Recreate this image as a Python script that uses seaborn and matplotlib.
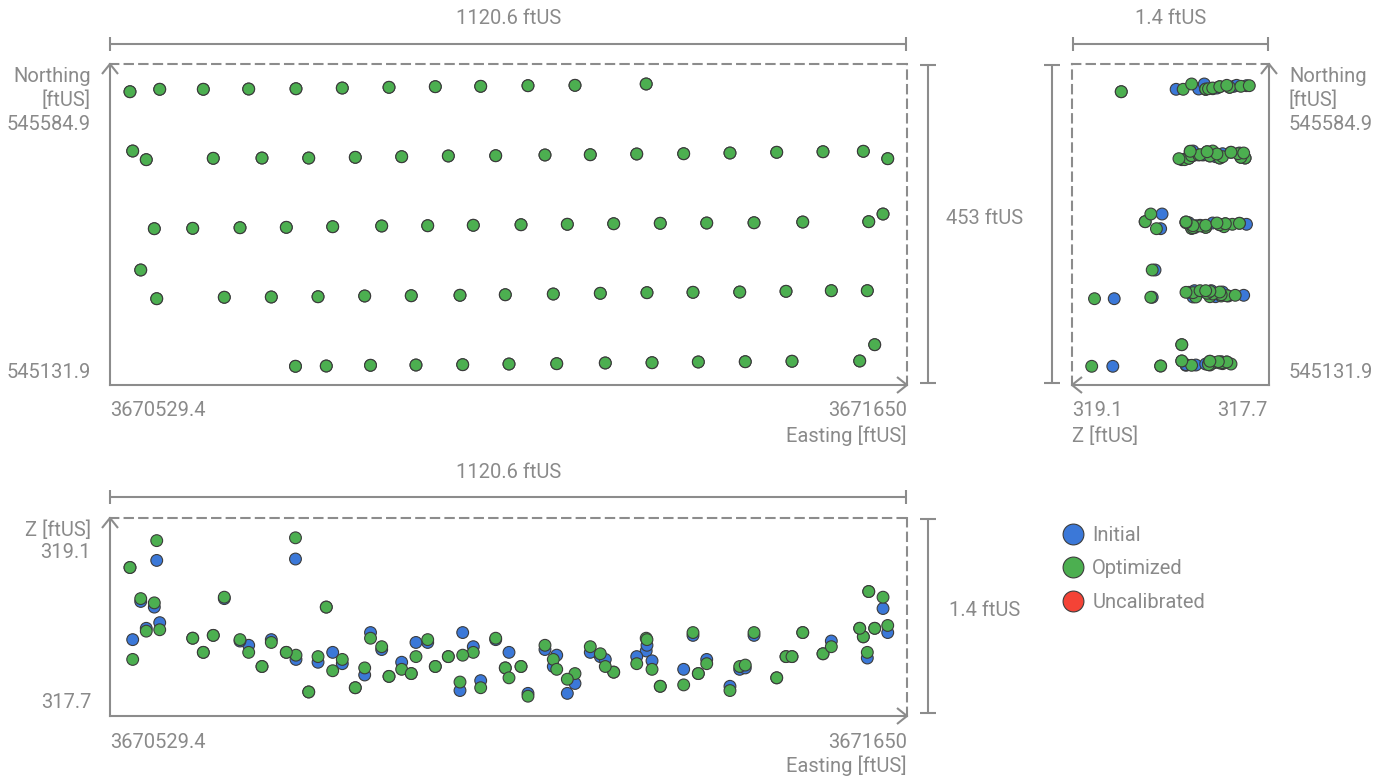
import matplotlib
matplotlib.use("Agg")
import matplotlib.pyplot as plt
from matplotlib.lines import Line2D
import pandas as pd
import seaborn as sns

sns.set_style("white")
plt.rcParams['font.family'] = ['Roboto', 'DejaVu Sans']

# ------------------------------------------------------------------ data
series_names = ["Initial", "Optimized", "Uncalibrated"]
series_colors = ["#3b78d8", "#4caf50", "#f44336"]

easting_limits = [3670529.4, 3671650.0]
northing_limits = [545131.9, 545584.9]
z_limits = [317.7, 319.1]
easting_tick_labels = ["3670529.4", "3671650"]
northing_tick_labels = ["545131.9", "545584.9"]
z_tick_labels = ["317.7", "319.1"]
unit = "ftUS"

# camera positions, flight line by flight line (north to south)
easting = [
    3670557.5, 3670599.3, 3670660.6, 3670724.4, 3670790.9, 3670856.0, 3670921.7, 3670986.8, 3671050.6, 3671117.1, 3671183.2, 3671283.3,
    3670561.3, 3670580.4, 3670674.6, 3670743.1, 3670808.8, 3670874.3, 3670939.5, 3671005.1, 3671071.7, 3671141.0, 3671204.7, 3671270.0, 3671336.0, 3671401.1, 3671466.8, 3671531.9, 3671588.6, 3671622.9,
    3670591.7, 3670645.7, 3670712.2, 3670777.3, 3670842.5, 3670911.4, 3670976.1, 3671040.2, 3671107.3, 3671172.4, 3671237.6, 3671303.1, 3671368.4, 3671434.9, 3671503.4, 3671596.2, 3671616.3,
    3670572.6, 3670595.1, 3670690.1, 3670756.2, 3670821.9, 3670887.5, 3670953.0, 3671021.5, 3671085.2, 3671152.7, 3671218.8, 3671284.4, 3671349.1, 3671414.8, 3671479.9, 3671543.6, 3671594.2,
    3670790.2, 3670833.5, 3670895.7, 3670959.6, 3671025.3, 3671090.4, 3671157.5, 3671225.8, 3671291.5, 3671356.6, 3671422.6, 3671488.3, 3671583.5, 3671604.6,
]
northing = [
    545545.8, 545549.2, 545549.2, 545549.6, 545550.0, 545551.0, 545552.0, 545552.9, 545553.4, 545554.3, 545554.8, 545556.7,
    545462.1, 545449.9, 545451.8, 545452.2, 545452.2, 545453.2, 545454.1, 545455.1, 545455.5, 545456.5, 545456.9, 545457.9, 545458.3, 545459.3, 545460.3, 545461.1, 545461.7, 545451.3,
    545352.5, 545353.0, 545353.9, 545354.4, 545355.3, 545356.3, 545356.7, 545357.3, 545358.1, 545358.7, 545359.5, 545360.1, 545360.5, 545360.9, 545361.9, 545362.4, 545373.2,
    545294.2, 545253.7, 545255.7, 545256.1, 545256.5, 545257.5, 545257.9, 545258.5, 545259.3, 545260.3, 545261.3, 545262.2, 545262.7, 545263.1, 545264.1, 545265.0, 545265.0,
    545158.3, 545158.7, 545159.7, 545160.1, 545160.6, 545161.5, 545162.0, 545163.0, 545163.4, 545164.4, 545164.8, 545165.4, 545165.8, 545188.8,
]
z_initial = [
    318.75, 318.36, 318.15, 318.20, 318.10, 318.07, 317.98, 318.05, 317.95, 317.86, 317.93, 318.16,
    318.24, 318.32, 318.27, 318.05, 317.87, 317.90, 318.08, 318.12, 318.24, 318.17, 318.15, 318.12, 318.03, 317.91, 317.97, 318.14, 318.26, 318.29,
    318.47, 318.25, 318.23, 318.15, 318.15, 318.17, 318.22, 318.19, 318.05, 317.86, 318.01, 317.91, 318.10, 318.27, 318.29, 318.58, 318.46,
    318.51, 318.80, 318.53, 318.24, 318.08, 317.99, 318.00, 317.88, 318.04, 318.05, 318.12, 318.20, 318.27, 318.03, 318.12, 318.23, 318.11,
    318.81, 318.47, 318.29, 318.22, 318.29, 318.15, 318.13, 318.10, 318.09, 318.00, 318.04, 318.12, 318.32, 318.32,
]
z_optimized = [
    318.75, 318.31, 318.15, 318.15, 318.13, 318.10, 317.98, 318.05, 317.90, 317.84, 318.00, 318.25,
    318.10, 318.30, 318.27, 318.05, 317.87, 317.90, 318.03, 318.12, 318.25, 318.20, 318.19, 318.07, 317.92, 317.88, 317.97, 318.14, 318.26, 318.34,
    318.50, 318.25, 318.24, 318.15, 318.02, 318.19, 318.24, 318.15, 318.05, 317.96, 318.01, 317.91, 318.07, 318.29, 318.29, 318.58, 318.54,
    318.53, 318.94, 318.54, 318.22, 318.12, 318.04, 318.00, 317.94, 318.04, 318.10, 318.14, 318.24, 318.29, 318.05, 318.12, 318.19, 318.15,
    318.96, 318.47, 318.25, 318.12, 318.13, 317.97, 318.03, 318.05, 318.03, 318.00, 318.06, 318.12, 318.32, 318.32,
]

# long table: Initial first so Optimized is drawn on top
df = pd.concat([
    pd.DataFrame({"Easting": easting, "Northing": northing, "Z": z_initial, "Series": "Initial"}),
    pd.DataFrame({"Easting": easting, "Northing": northing, "Z": z_optimized, "Series": "Optimized"}),
], ignore_index=True)
palette = dict(zip(series_names, series_colors))

# ------------------------------------------------------------------ style
W, H = 1393, 783
GREY = "#8c8c8c"
TXT = "#8a8a8a"
FS = 14.5
LW = 1.5
EDGE = "#3c3c3c"

fig = plt.figure(figsize=(W / 100, H / 100), dpi=100)


def fx(x):
    return x / W


def fy(y):
    return 1 - y / H


def rect(x0, y0, x1, y1):
    return [x0 / W, 1 - y1 / H, (x1 - x0) / W, (y1 - y0) / H]


def line(xs, ys, ls="-"):
    fig.add_artist(Line2D([fx(v) for v in xs], [fy(v) for v in ys], color=GREY,
                          lw=LW, ls=ls, solid_capstyle="butt"))


def text(x, y, s, ha="left"):
    fig.text(fx(x), fy(y), s, ha=ha, va="center", color=TXT, fontsize=FS)


def chevron(x, y, d):
    a, b = 10, 8
    if d == "up":
        line([x - b, x, x + b], [y + a, y, y + a])
    elif d == "right":
        line([x - a, x, x - a], [y - b, y, y + b])
    elif d == "left":
        line([x + a, x, x + a], [y - b, y, y + b])


def hbracket(x0, x1, y):
    line([x0, x1], [y, y])
    line([x0, x0], [y - 7, y + 7])
    line([x1, x1], [y - 7, y + 7])


def vbracket(x, y0, y1):
    line([x, x], [y0, y1])
    line([x - 8, x + 8], [y0, y0])
    line([x - 8, x + 8], [y1, y1])


def span_label(lims):
    return f"{round(lims[1] - lims[0], 1):g} {unit}"


def style(ax, solid, dashed):
    ax.set_xticks([])
    ax.set_yticks([])
    ax.set_xlabel("")
    ax.set_ylabel("")
    ax.set_facecolor("none")
    for s in solid:
        ax.spines[s].set_visible(True)
        ax.spines[s].set_color(GREY)
        ax.spines[s].set_linewidth(LW)
    for s in dashed:
        ax.spines[s].set_visible(True)
        ax.spines[s].set_color(GREY)
        ax.spines[s].set_linewidth(LW)
        ax.spines[s].set_linestyle((0, (4, 3)))


scatter_kw = dict(hue="Series", hue_order=series_names, palette=palette, s=72,
                  edgecolor=EDGE, linewidth=0.8, legend=False, clip_on=False)

# ------------------------------------------------------------------ top-left : Easting / Northing
L, R, T, B = 110, 907, 64, 385
ax_en = fig.add_axes(rect(L, T, R, B))
sns.scatterplot(data=df, x="Easting", y="Northing", ax=ax_en, **scatter_kw)
ax_en.set_xlim(*easting_limits)
ax_en.set_ylim(*northing_limits)
style(ax_en, ("left", "bottom"), ("top", "right"))
chevron(L, T, "up")
chevron(R, B, "right")
hbracket(L, R - 1, 44)
text((L + R) / 2, 18, span_label(easting_limits), ha="center")
vbracket(928, T + 1, B - 2)
text(985, 218, span_label(northing_limits), ha="center")
text(91, 77, "Northing", ha="right")
text(91, 100, f"[{unit}]", ha="right")
text(91, 125, northing_tick_labels[1], ha="right")
text(91, 373, northing_tick_labels[0], ha="right")
text(L, 411, easting_tick_labels[0])
text(R, 411, easting_tick_labels[1], ha="right")
text(R, 436, f"Easting [{unit}]", ha="right")

# ------------------------------------------------------------------ top-right : Z / Northing
L2, R2 = 1072, 1269
ax_zn = fig.add_axes(rect(L2, T, R2, B))
sns.scatterplot(data=df, x="Z", y="Northing", ax=ax_zn, **scatter_kw)
ax_zn.set_xlim(z_limits[1], z_limits[0])
ax_zn.set_ylim(*northing_limits)
style(ax_zn, ("right", "bottom"), ("top", "left"))
chevron(R2, T, "up")
chevron(L2, B, "left")
hbracket(L2 + 1, R2 - 1, 44)
text((L2 + R2) / 2, 18, span_label(z_limits), ha="center")
vbracket(1052, T + 1, B - 2)
text(1289, 77, "Northing")
text(1289, 100, f"[{unit}]")
text(1289, 125, northing_tick_labels[1])
text(1289, 373, northing_tick_labels[0])
text(L2, 411, z_tick_labels[1])
text(R2 - 1, 411, z_tick_labels[0], ha="right")
text(L2, 436, f"Z [{unit}]")

# ------------------------------------------------------------------ bottom : Easting / Z
T3, B3 = 518, 716
ax_ez = fig.add_axes(rect(L, T3, R, B3))
sns.scatterplot(data=df, x="Easting", y="Z", ax=ax_ez, **scatter_kw)
ax_ez.set_xlim(*easting_limits)
ax_ez.set_ylim(*z_limits)
style(ax_ez, ("left", "bottom"), ("top", "right"))
chevron(L, T3, "up")
chevron(R, B3, "right")
hbracket(L, R - 1, 497)
text((L + R) / 2, 473, span_label(easting_limits), ha="center")
vbracket(928, T3 + 1, B3 - 3)
text(985, 610, span_label(z_limits), ha="center")
text(91, 530, f"Z [{unit}]", ha="right")
text(91, 553, z_tick_labels[1], ha="right")
text(91, 703, z_tick_labels[0], ha="right")
text(L, 742, easting_tick_labels[0])
text(R, 742, easting_tick_labels[1], ha="right")
text(R, 766, f"Easting [{unit}]", ha="right")

# ------------------------------------------------------------------ legend
handles = [Line2D([], [], ls="", marker="o", markersize=15, markerfacecolor=c,
                  markeredgecolor=EDGE, markeredgewidth=0.8) for c in series_colors]
fig.legend(handles, series_names, loc="upper left",
           bbox_to_anchor=(fx(1063), fy(526)), frameon=False, fontsize=FS,
           labelcolor=TXT, handlelength=1.0, handletextpad=0.45,
           labelspacing=0.72, borderpad=0, borderaxespad=0)

fig.savefig("out.png", dpi=100)
